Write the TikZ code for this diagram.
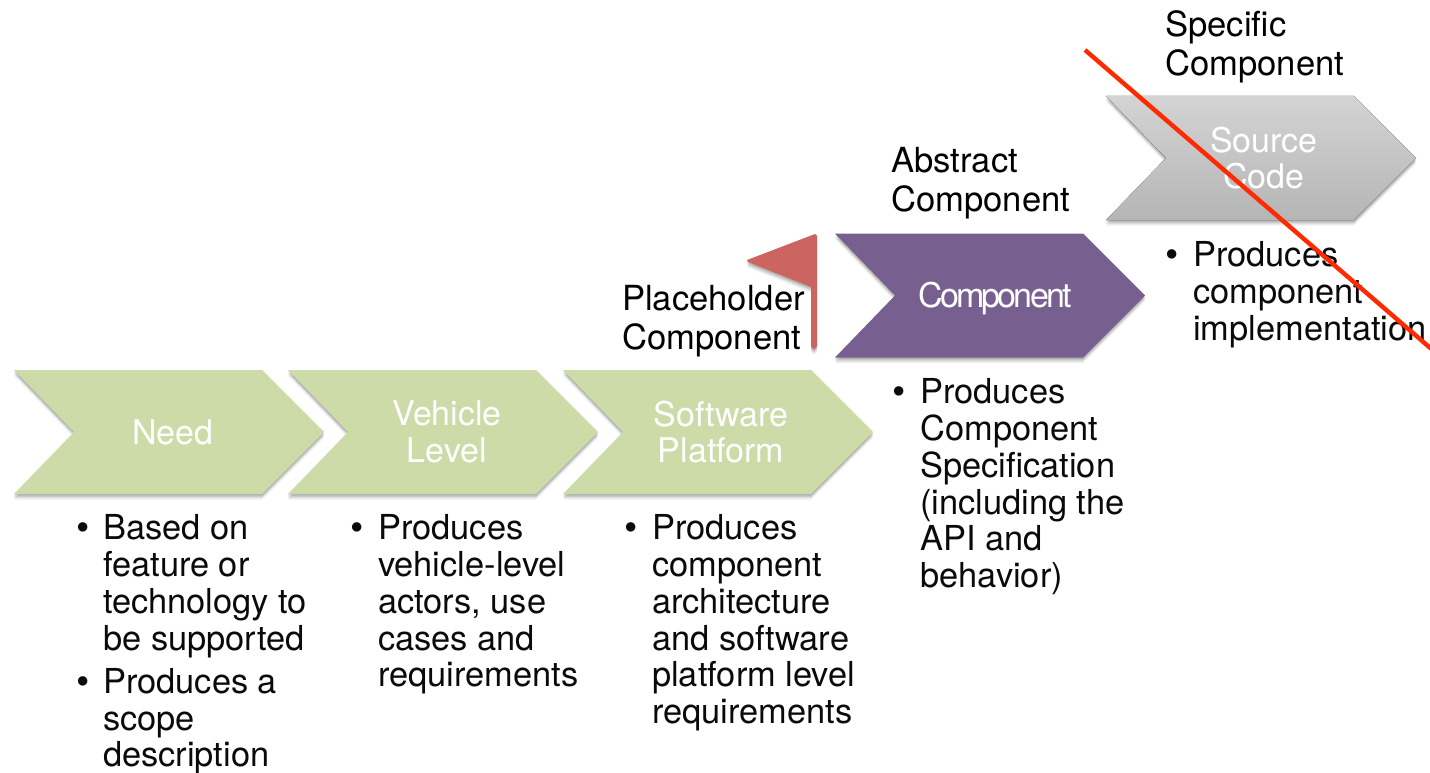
\documentclass[tikz,border=0pt]{standalone}
\usepackage{fontspec}
\setmainfont{TeX Gyre Heros}
\definecolor{greenchev}{HTML}{CDDBA9}
\definecolor{purplechev}{HTML}{77608F}
\definecolor{flagred}{HTML}{CC655F}
\definecolor{crossred}{HTML}{FF2A00}
\definecolor{bodyink}{HTML}{0A0A0A}
\newcommand{\softshadow}[1]{%
  \foreach \dy/\op in {1/.07,2/.08,3/.08,4/.06,5/.04,6/.03}
    \fill[black,opacity=\op,shift={(0,\dy)}] #1;}
\tikzset{
  x=1pt,y=-1pt,
  body/.style={font=\fontsize{34.4}{36.8}\selectfont,text=bodyink,align=left,inner sep=0pt,anchor=north west},
  bulletmark/.style={font=\fontsize{38}{40}\selectfont,text=bodyink,inner sep=0pt,anchor=center},
  steplabel/.style={font=\fontsize{34}{36.5}\selectfont,text=white,align=center,inner sep=0pt,anchor=center},
  levelname/.style={font=\fontsize{34.6}{39.5}\selectfont,text=black,align=left,inner sep=0pt,anchor=north west},
}
\begin{document}
\begin{tikzpicture}
\useasboundingbox (0,0) rectangle (1430,773);
% Chevrons
\def\chev#1#2#3#4{%
  \softshadow{(#1,#2) -- (#1+248,#2) -- (#1+310,#2+62) -- (#1+248,#2+124) -- (#1,#2+124) -- (#1+60,#2+62) -- cycle}
  \fill[#3] (#1,#2) -- (#1+248,#2) -- (#1+310,#2+62) -- (#1+248,#2+124) -- (#1,#2+124) -- (#1+60,#2+62) -- cycle;
}
\chev{14}{370}{greenchev}{}
\chev{288}{370}{greenchev}{}
\chev{563}{370}{greenchev}{}
\chev{835}{233.5}{purplechev}{}
\chev{1106}{96}{top color=black!17,bottom color=black!29}{}
% Flag
\softshadow{(815,234) -- (817,236) -- (817,346) -- (815,348.5) -- (813,348.5) -- (811,346) -- (811,287) -- (748,262) -- (747,260) -- cycle}
\fill[flagred] (815,234) -- (817,236) -- (817,346) -- (815,348.5) -- (813,348.5) -- (811,346) -- (811,287) -- (748,262) -- (747,260) -- cycle;
% Step labels
\node[steplabel] (need) at (173,432) {Need};
\node[steplabel] (vehicle) at (447,432) {Vehicle\\Level};
\node[steplabel] (software) at (721,432) {Software\\Platform};
\node[steplabel,font=\fontsize{34}{36.5}\selectfont\addfontfeature{LetterSpace=-8.4}] (component) at (995,299) {Component};
\node[steplabel] (source) at (1264,158) {Source\\Code};
% Level names
\node[levelname] (placeholder) at (622,285) {Placeholder\\Component};
\node[levelname] (abstract) at (891,147) {Abstract\\Component};
\node[levelname] (specific) at (1165,10) {Specific\\Component};
% Lists
\node[bulletmark] (b1) at (83,532) {•};
\node[body] (t1) at (103,514.5) {Based on\\feature or\\technology to\\be supported};
\node[bulletmark] (b2) at (83,686) {•};
\node[body] (t2) at (103,668) {Produces a\\scope\\description};
\node[bulletmark] (b3) at (357,532) {•};
\node[body] (t3) at (378,514.5) {Produces\\vehicle-level\\actors, use\\cases and\\requirements};
\node[bulletmark] (b4) at (631,532) {•};
\node[body] (t4) at (652,514.5) {Produces\\component\\architecture\\and software\\platform level\\requirements};
\node[bulletmark] (b5) at (899,396) {•};
\node[body] (t5) at (920,378.5) {Produces\\Component\\Specification\\(including the\\API and\\behavior)};
\node[bulletmark] (b6) at (1172,259) {•};
\node[body] (t6) at (1193,241.5) {Produces\\component\\implementation};
% Strike-through line
\coordinate (s1) at (1085,50);
\coordinate (s2) at (1432,349.5);
\draw[crossred,line width=4.4pt] (s1) -- (s2);
\end{tikzpicture}
\end{document}
